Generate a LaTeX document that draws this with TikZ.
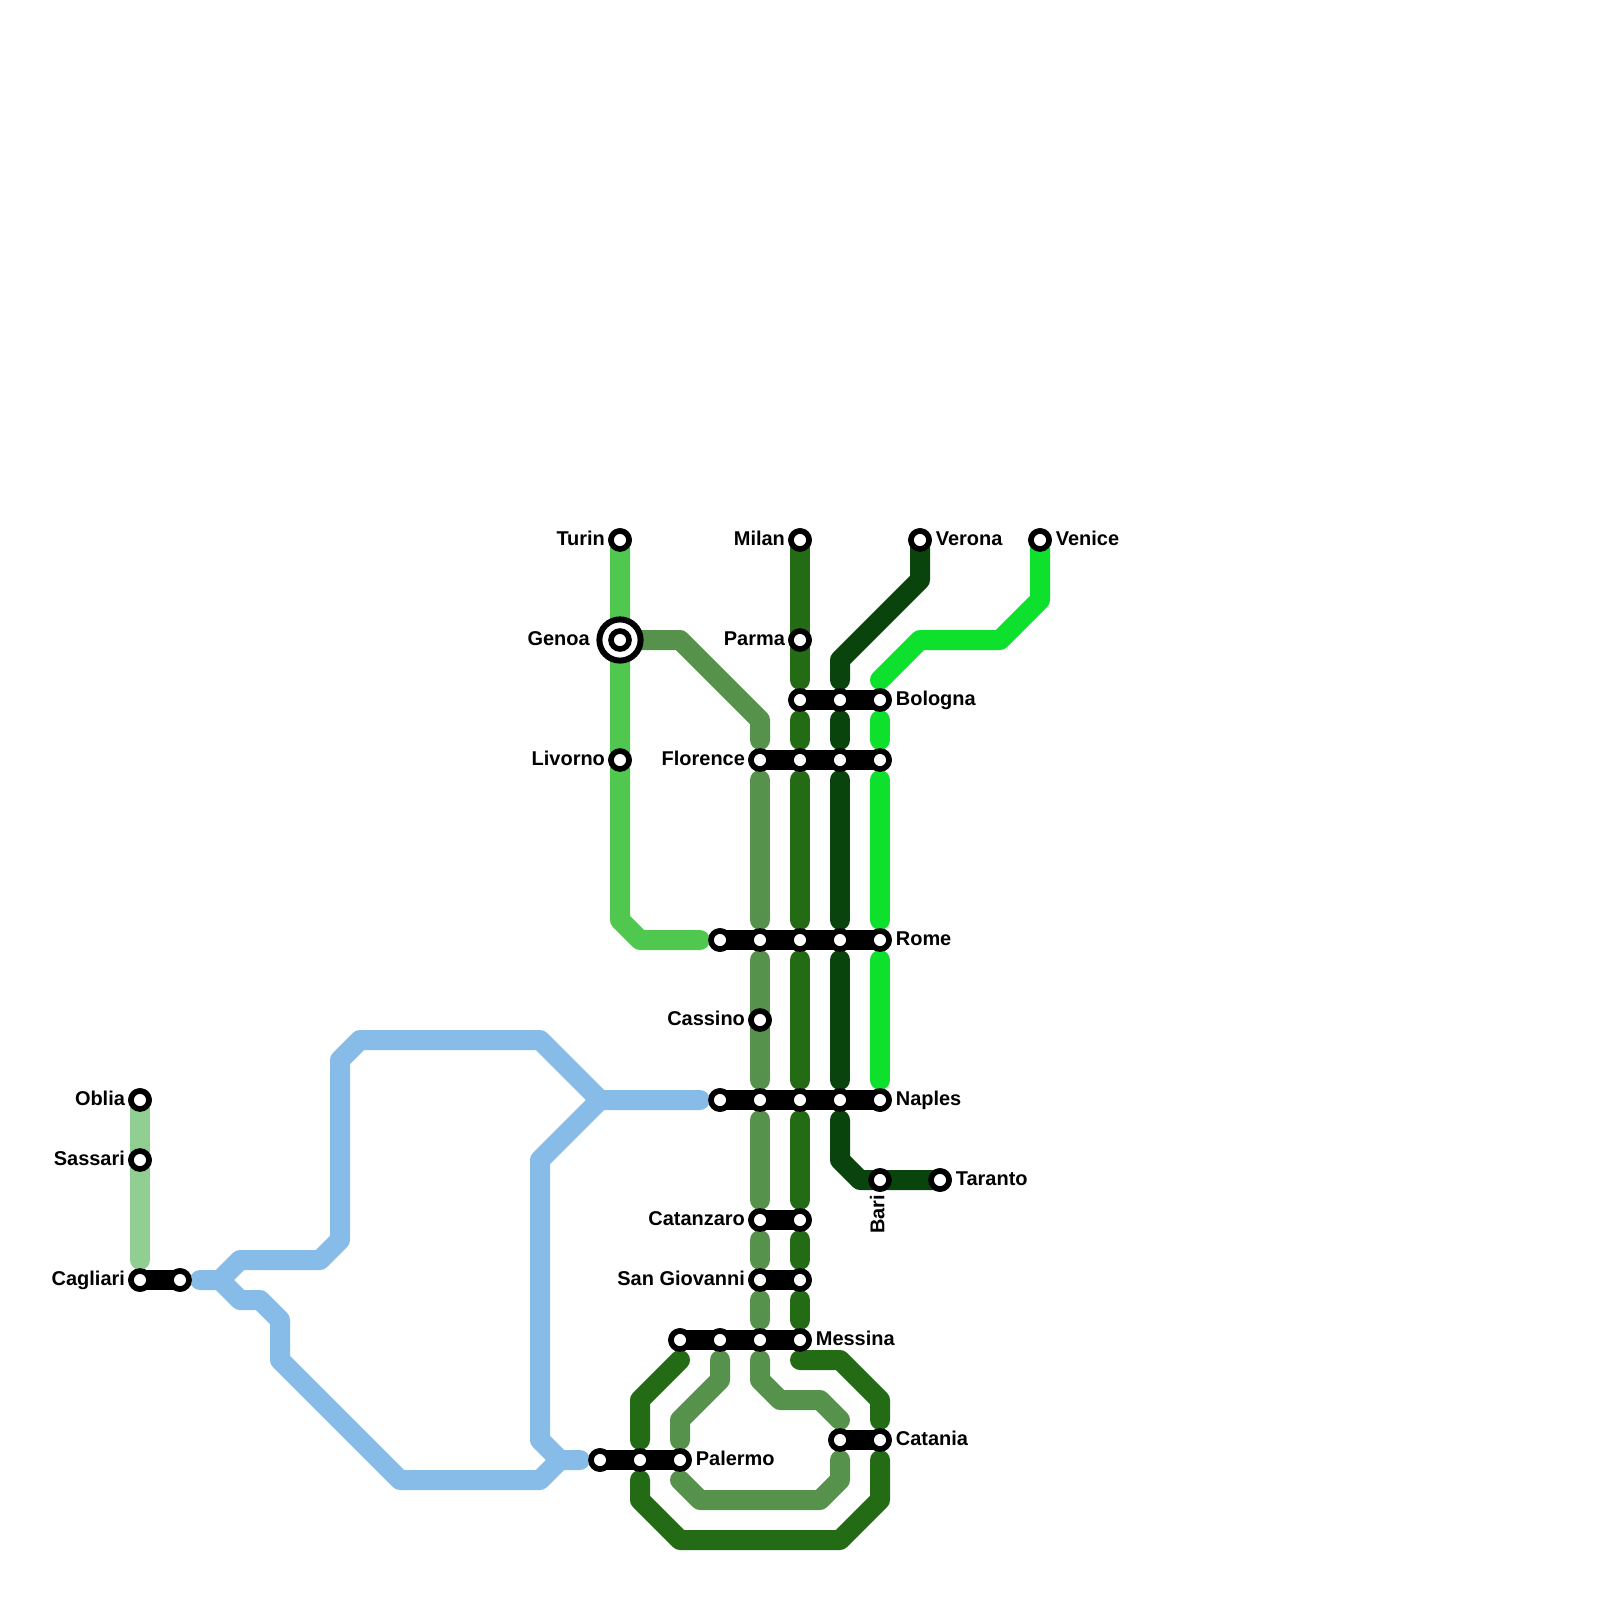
\documentclass[tikz,border=0pt]{standalone}
\usepackage{fontspec}
\setmainfont{Liberation Sans}
\definecolor{torino}{HTML}{50C850}
\definecolor{tirreno}{HTML}{56924B}
\definecolor{milano}{HTML}{236B14}
\definecolor{verona}{HTML}{0A440D}
\definecolor{venezia}{HTML}{0EE02E}
\definecolor{sardegna}{HTML}{90CE92}
\definecolor{ferry}{HTML}{88BCE8}

\begin{document}
\begin{tikzpicture}[
  x=0.5cm,y=-0.5cm,
  font=\bfseries\fontsize{14.2}{16}\selectfont,
  lne/.style={line width=0.5cm,line cap=round,line join=round},
  bar/.style={line width=0.5cm,line cap=round,black},
  stn/.style={circle,draw=black,fill=white,line width=0.14cm,minimum size=0.45cm,inner sep=0pt,outer sep=0pt},
  ring/.style={circle,draw=black,fill=white,line width=0.15cm,minimum size=1.03cm,inner sep=0pt,outer sep=0pt},
  lblr/.style={anchor=base west,inner sep=0pt,xshift=0.39cm,yshift=-0.13cm},
  lbll/.style={anchor=base east,inner sep=0pt,xshift=-0.37cm,yshift=-0.13cm},
]
\useasboundingbox (0,0) rectangle (80,80);

% ---------- stations first, so the lines can start from them ----------
\begin{scope}[every node/.style={stn}]
  \node (turin) at (31,27) {};
  \node (genoa) at (31,32) {};
  \node (livorno) at (31,38) {};
  \node (milan) at (40,27) {};
  \node (parma) at (40,32) {};
  \node (verona) at (46,27) {};
  \node (venice) at (52,27) {};
  \node (cassino) at (38,51) {};
  \node (bari) at (44,59) {};
  \node (taranto) at (47,59) {};
  \node (oblia) at (7,55) {};
  \node (sassari) at (7,58) {};
  \node (cagliari) at (7,64) {};
  \node (cagliarib) at (9,64) {};
  \foreach \n/\c in {bolognaa/40,bolognab/42,bologna/44}{\node (\n) at (\c,35) {};}
  \foreach \n/\c in {florence/38,florenceb/40,florencec/42,florenced/44}{\node (\n) at (\c,38) {};}
  \foreach \n/\c in {romea/36,romeb/38,romec/40,romed/42,rome/44}{\node (\n) at (\c,47) {};}
  \foreach \n/\c in {naplesa/36,naplesb/38,naplesc/40,naplesd/42,naples/44}{\node (\n) at (\c,55) {};}
  \foreach \n/\c in {catanzaro/38,catanzarob/40}{\node (\n) at (\c,61) {};}
  \foreach \n/\c in {giovanni/38,giovannib/40}{\node (\n) at (\c,64) {};}
  \foreach \n/\c in {messinaa/34,messinab/36,messinac/38,messina/40}{\node (\n) at (\c,67) {};}
  \foreach \n/\c in {cataniaa/42,catania/44}{\node (\n) at (\c,72) {};}
  \foreach \n/\c in {palermoa/30,palermob/32,palermo/34}{\node (\n) at (\c,73) {};}
\end{scope}

% ---------- Turin line ----------
\draw[lne,torino] (turin.center) -- (31,46) -- (32,47) -- (35,47);

% ---------- Genoa line ----------
\draw[lne,tirreno] (genoa.center) -- (34,32) -- (38,36) -- (38,37);
\foreach \a/\b in {39/46,48/54,56/60,62/63,65/66}{
  \draw[lne,tirreno] (38,\a) -- (38,\b);
}
\draw[lne,tirreno] (38,68) -- (38,69) -- (39,70) -- (41,70) -- (42,71);
\draw[lne,tirreno] (42,73) -- (42,74) -- (41,75) -- (35,75) -- (34,74);
\draw[lne,tirreno] (36,68) -- (36,69) -- (34,71) -- (34,72);

% ---------- Milan line ----------
\draw[lne,milano] (milan.center) -- (40,34);
\foreach \a/\b in {36/37,39/46,48/54,56/60,62/63,65/66}{
  \draw[lne,milano] (40,\a) -- (40,\b);
}
\draw[lne,milano] (40,68) -- (42,68) -- (44,70) -- (44,71);
\draw[lne,milano] (44,73) -- (44,75) -- (42,77) -- (34,77) -- (32,75) -- (32,74);
\draw[lne,milano] (32,72) -- (32,70) -- (34,68);

% ---------- Verona line ----------
\draw[lne,verona] (verona.center) -- (46,29) -- (42,33) -- (42,34);
\foreach \a/\b in {36/37,39/46,48/54}{
  \draw[lne,verona] (42,\a) -- (42,\b);
}
\draw[lne,verona] (42,56) -- (42,58) -- (43,59) -- (taranto.center);

% ---------- Venice line ----------
\draw[lne,venezia] (venice.center) -- (52,30) -- (50,32) -- (46,32) -- (44,34);
\foreach \a/\b in {36/37,39/46,48/54}{
  \draw[lne,venezia] (44,\a) -- (44,\b);
}

% ---------- Sardinia ----------
\draw[lne,sardegna] (oblia.center) -- (7,63);

% ---------- sea routes ----------
\draw[lne,ferry] (35,55) -- (30,55) -- (27,52) -- (18,52) -- (17,53) -- (17,62) -- (16,63) -- (12,63) -- (11,64) -- (10,64);
\draw[lne,ferry] (30,55) -- (27,58) -- (27,72) -- (28,73) -- (29,73);
\draw[lne,ferry] (28,73) -- (27,74) -- (20,74) -- (14,68) -- (14,66) -- (13,65) -- (12,65) -- (11,64);

% ---------- interchanges ----------
\draw[bar] (bolognaa.center) -- (bologna.center);
\draw[bar] (florence.center) -- (florenced.center);
\draw[bar] (romea.center) -- (rome.center);
\draw[bar] (naplesa.center) -- (naples.center);
\draw[bar] (catanzaro.center) -- (catanzarob.center);
\draw[bar] (giovanni.center) -- (giovannib.center);
\draw[bar] (messinaa.center) -- (messina.center);
\draw[bar] (cataniaa.center) -- (catania.center);
\draw[bar] (palermoa.center) -- (palermo.center);
\draw[bar] (cagliari.center) -- (cagliarib.center);

% ---------- station discs again, on top ----------
\node[ring] (genoaring) at (genoa) {};
\begin{scope}[every node/.style={stn}]
  \foreach \n in {turin,genoa,livorno,milan,parma,verona,venice,cassino,bari,taranto,oblia,sassari,cagliari,cagliarib,
    bolognaa,bolognab,bologna,florence,florenceb,florencec,florenced,romea,romeb,romec,romed,rome,
    naplesa,naplesb,naplesc,naplesd,naples,catanzaro,catanzarob,giovanni,giovannib,
    messinaa,messinab,messinac,messina,cataniaa,catania,palermoa,palermob,palermo}{
    \node (\n top) at (\n) {};
  }
\end{scope}

% ---------- labels ----------
\node[lbll] (lturin) at (turin) {Turin};
\node[lbll,xshift=-0.38cm] (lgenoa) at (genoa) {Genoa};
\node[lbll] (llivorno) at (livorno) {Livorno};
\node[lbll] (lmilan) at (milan) {Milan};
\node[lbll] (lparma) at (parma) {Parma};
\node[lblr] (lverona) at (verona) {Verona};
\node[lblr] (lvenice) at (venice) {Venice};
\node[lblr] (lbologna) at (bologna) {Bologna};
\node[lbll] (lflorence) at (florence) {Florence};
\node[lblr] (lrome) at (rome) {Rome};
\node[lbll] (lcassino) at (cassino) {Cassino};
\node[lblr] (lnaples) at (naples) {Naples};
\node[lblr] (ltaranto) at (taranto) {Taranto};
\node[anchor=base east,inner sep=0pt,rotate=90,xshift=-0.37cm,yshift=-0.11cm] (lbari) at (bari) {Bari};
\node[lbll] (lcatanzaro) at (catanzaro) {Catanzaro};
\node[lbll] (lgiovanni) at (giovanni) {San Giovanni};
\node[lblr] (lmessina) at (messina) {Messina};
\node[lblr] (lcatania) at (catania) {Catania};
\node[lblr] (lpalermo) at (palermo) {Palermo};
\node[lbll] (loblia) at (oblia) {Oblia};
\node[lbll] (lsassari) at (sassari) {Sassari};
\node[lbll] (lcagliari) at (cagliari) {Cagliari};
\end{tikzpicture}
\end{document}
